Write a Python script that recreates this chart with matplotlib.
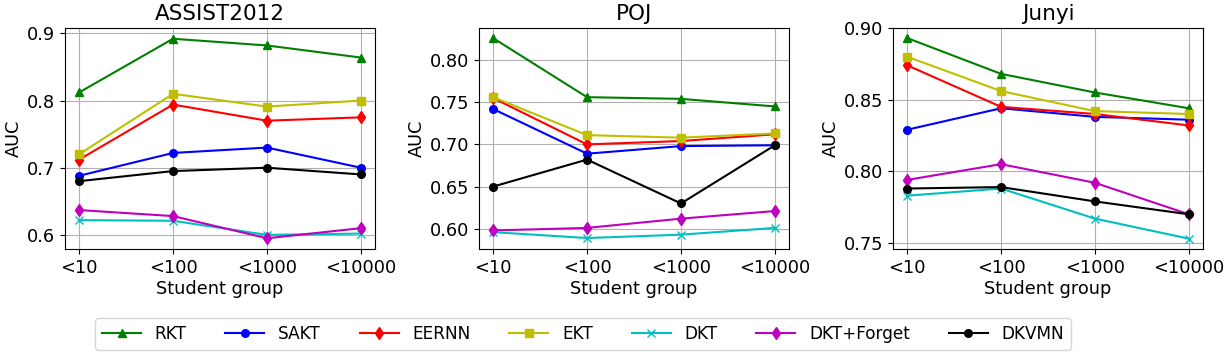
import matplotlib
matplotlib.use("Agg")
import matplotlib.pyplot as plt

groups = ["<10", "<100", "<1000", "<10000"]
models = ["RKT", "SAKT", "EERNN", "EKT", "DKT", "DKT+Forget", "DKVMN"]
styles = ["g^-", "bo-", "rd-", "ys-", "cx-", "md-", "ko-"]

assist = {
    "RKT": [0.812, 0.892, 0.882, 0.864],
    "SAKT": [0.688, 0.722, 0.730, 0.700],
    "EERNN": [0.712, 0.794, 0.770, 0.775],
    "EKT": [0.720, 0.810, 0.791, 0.800],
    "DKT": [0.622, 0.621, 0.600, 0.602],
    "DKT+Forget": [0.637, 0.628, 0.595, 0.610],
    "DKVMN": [0.680, 0.695, 0.700, 0.690],
}
poj = {
    "RKT": [0.826, 0.756, 0.754, 0.745],
    "SAKT": [0.742, 0.689, 0.698, 0.699],
    "EERNN": [0.755, 0.700, 0.704, 0.712],
    "EKT": [0.756, 0.711, 0.708, 0.713],
    "DKT": [0.596, 0.589, 0.593, 0.601],
    "DKT+Forget": [0.598, 0.601, 0.612, 0.621],
    "DKVMN": [0.650, 0.682, 0.630, 0.699],
}
junyi = {
    "RKT": [0.893, 0.868, 0.855, 0.844],
    "SAKT": [0.829, 0.844, 0.838, 0.836],
    "EERNN": [0.874, 0.845, 0.840, 0.832],
    "EKT": [0.880, 0.856, 0.842, 0.840],
    "DKT": [0.783, 0.788, 0.767, 0.753],
    "DKT+Forget": [0.794, 0.805, 0.792, 0.770],
    "DKVMN": [0.788, 0.789, 0.779, 0.770],
}

panels = [
    ("ASSIST2012", assist, (0.579, 0.908), [0.6, 0.7, 0.8, 0.9], "%.1f"),
    ("POJ", poj, (0.576, 0.838), [0.60, 0.65, 0.70, 0.75, 0.80], "%.2f"),
    ("Junyi", junyi, (0.7458, 0.90), [0.75, 0.80, 0.85, 0.90], "%.2f"),
]

W, H = 1231, 357
fig = plt.figure(figsize=(W / 100, H / 100), dpi=100)
lefts = [65, 479, 893]
ax_w = 310
top, bottom = 28, 249

x = list(range(len(groups)))
handles = []
for left, (title, data, ylim, yticks, fmt) in zip(lefts, panels):
    ax = fig.add_axes([left / W, 1 - bottom / H, ax_w / W, (bottom - top) / H])
    for name, st in zip(models, styles):
        ms = 6.5 if st[1] == "d" else 5.5
        h, = ax.plot(x, data[name], st, label=name, markersize=ms)
        if len(handles) < len(models):
            handles.append(h)
    ax.set_xticks(x)
    ax.set_xticklabels(groups, fontsize=12.8)
    ax.set_yticks(yticks)
    ax.set_yticklabels([fmt % t for t in yticks], fontsize=12.8)
    ax.set_ylim(*ylim)
    ax.set_xlim(-0.15, 3.15)
    ax.grid(True)
    ax.set_title(title, fontsize=15.5)
    ax.set_xlabel("Student group", fontsize=12.8, labelpad=2)
    ax.set_ylabel("AUC", fontsize=12.8, labelpad=3)

fig.legend(handles, models, loc="center", ncol=7, fontsize=12.2,
           bbox_to_anchor=(583 / W, 1 - 334 / H), handlelength=2.3,
           columnspacing=2.3)

fig.savefig("out.png", dpi=100)
